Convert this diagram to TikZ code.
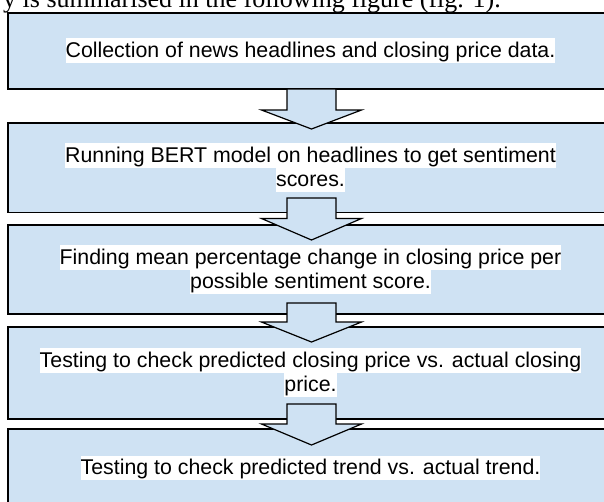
\documentclass[tikz,border=0pt]{standalone}
\usepackage{fontspec}
\setmainfont{Liberation Sans}
\newfontfamily\introfont{Liberation Serif}
\definecolor{boxblue}{RGB}{207,226,243}

\begin{document}
\begin{tikzpicture}[x=0.75pt,y=-0.75pt,
  stage/.style={draw=black, line width=1.1pt, fill=boxblue, inner sep=0pt,
    minimum width=453.75pt},
  hl/.style={fill=white, inner xsep=0pt, inner ysep=0pt,
    text height=14.4pt, text depth=4.3pt, font=\fontsize{16}{18}\selectfont},
  blockarrow/.style={draw=black, line width=0.9pt, fill=boxblue, line join=miter}]
\useasboundingbox (0,0) rectangle (604,501);
\begin{scope}
\clip (0,0) rectangle (604,501);

% lead-in sentence, cut by the top edge
\node[font=\introfont\fontsize{19.5}{20}\selectfont, anchor=base east, inner sep=0pt]
  (intro) at (501,7) {y is summarised in the following figure (fig. 1).};

% process stages
\node[stage, minimum height=57pt]   (b1) at (310.5,51)    {};
\node[stage, minimum height=67.1pt] (b2) at (310.5,167.75) {};
\node[stage, minimum height=66.75pt](b3) at (310.5,269.5) {};
\node[stage, minimum height=69pt]   (b4) at (310.5,373)   {};
\node[stage, minimum height=58.5pt] (b5) at (310.5,468)   {};

% stage texts, each line on a white highlight
\node[hl] (t1)  at (310.5,50.5)  {Collection of news headlines and closing price data.};
\node[hl] (t2a) at (310.5,155.5) {Running BERT model on headlines to get sentiment};
\node[hl] (t2b) at (310.5,180)   {scores.};
\node[hl] (t3a) at (310.5,257.5) {Finding mean percentage change in closing price per};
\node[hl] (t3b) at (310.5,282)   {possible sentiment score.};
\node[hl] (t4a) at (310.5,360.5) {Testing to check predicted closing price vs. actual closing};
\node[hl] (t4b) at (310.5,385)   {price.};
\node[hl] (t5)  at (310.5,468)   {Testing to check predicted trend vs. actual trend.};

% block arrows between stages (tip points)
\coordinate (a1) at (311.5,129);
\coordinate (a2) at (311.5,240);
\coordinate (a3) at (311.5,342);
\coordinate (a4) at (311.5,445);
\draw[blockarrow] (a1) -- ++(-50,-19) -- ++(25.5,0) -- ++(0,-21) -- ++(49,0) -- ++(0,21) -- ++(25.5,0) -- cycle;
\draw[blockarrow] (a2) -- ++(-50,-21.5) -- ++(25.5,0) -- ++(0,-20.5) -- ++(49,0) -- ++(0,20.5) -- ++(25.5,0) -- cycle;
\draw[blockarrow] (a3) -- ++(-50,-20) -- ++(25.5,0) -- ++(0,-19) -- ++(49,0) -- ++(0,19) -- ++(25.5,0) -- cycle;
\draw[blockarrow] (a4) -- ++(-50,-21) -- ++(25.5,0) -- ++(0,-20) -- ++(49,0) -- ++(0,20) -- ++(25.5,0) -- cycle;
\end{scope}
\end{tikzpicture}
\end{document}
